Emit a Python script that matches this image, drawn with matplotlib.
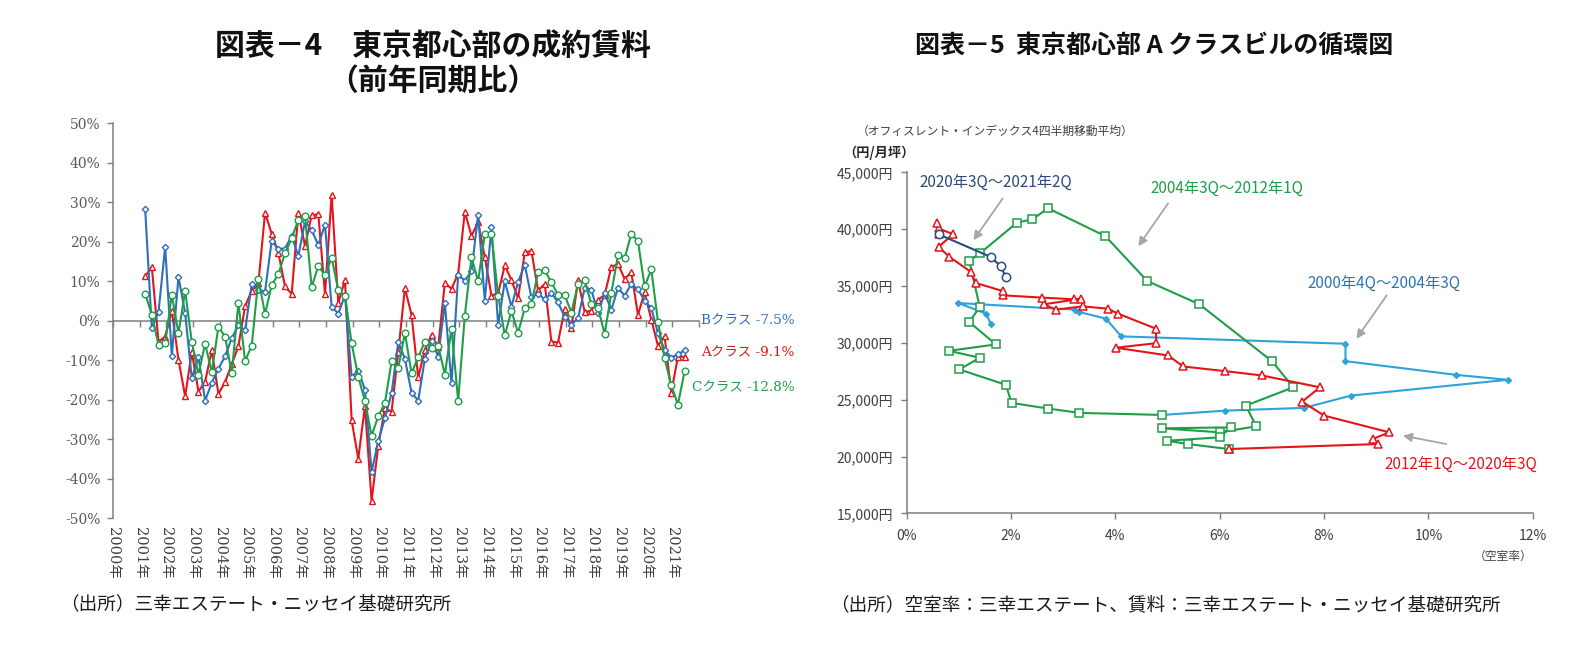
"""
Two panels: YoY change of contract rents by building class (fig.4) and the
rent / vacancy cycle of A-class buildings in central Tokyo (fig.5).
"""

import matplotlib

matplotlib.use("Agg")
import matplotlib.pyplot as plt
import matplotlib.transforms as mtransforms
from matplotlib.ticker import FuncFormatter

plt.rcParams["font.family"] = ["Noto Sans CJK JP", "DejaVu Sans"]

W, H = 1585, 652

# --- fig.4: YoY change of contract rents (%), quarterly 2001Q1 .. 2021Q2
START_YEAR = 2001
A_CLASS = [11.3, 13.6, -5.3, -4.0, 2.5, -9.9, -19.1, -7.9, -17.9, -15.4,
           -7.5, -18.5, -15.5, -11.0, -6.4, 3.7, 7.6, 9.5, 27.4, 22.0,
           17.2, 8.7, 6.8, 27.4, 18.9, 26.7, 27.0, 6.8, 31.9, 4.5,
           10.4, -25.2, -34.9, -21.6, -45.6, -31.6, -22.2, -23.0, -8.0, 8.3,
           1.5, -14.3, -7.4, -3.5, -6.7, 9.6, 8.1, 11.9, 27.6, 21.5,
           25.0, 16.1, 6.4, 7.0, 14.0, 10.3, 5.7, 17.3, 17.7, 7.7,
           9.3, -5.3, -5.5, 3.1, -1.9, 10.3, 2.2, 2.6, 5.3, 6.6,
           13.6, 14.4, 10.6, 12.3, 1.5, 7.2, 0.3, -6.3, -3.9, -18.2,
           -9.1, -9.1]
B_CLASS = [28.2, -1.9, 2.2, 18.7, -8.8, 11.1, 2.0, -14.6, -9.2, -20.2,
           -15.7, -12.1, -9.0, -4.4, -1.1, -2.4, 9.3, 7.8, 7.4, 20.3,
           18.2, 18.3, 21.5, 16.4, 25.2, 22.9, 19.2, 24.3, 3.6, 1.8,
           6.5, -14.2, -12.6, -17.4, -38.3, -30.4, -24.7, -18.4, -5.4, -9.6,
           -18.2, -20.2, -9.6, -5.0, -9.1, 4.5, -15.8, 11.6, 10.2, 12.5,
           26.9, 5.1, 23.7, -1.0, 10.0, 3.6, 9.8, 14.2, 5.9, 6.9,
           5.4, 7.0, 4.7, 0.9, -1.0, 0.6, 8.3, 7.9, 1.9, 7.0,
           2.8, 8.3, 6.4, 9.3, 8.0, 5.1, 3.2, -3.1, -7.4, -9.3,
           -8.5, -7.5]
C_CLASS = [6.9, 1.5, -6.1, -5.7, 6.6, -3.2, 7.6, -5.4, -13.6, -5.8,
           -13.0, -1.5, -4.0, -13.3, 4.6, -10.2, -6.3, 10.7, 1.7, 9.1,
           11.8, 17.1, 20.9, 25.6, 26.5, 8.5, 13.9, 11.5, 16.0, 7.7,
           6.4, -5.7, -14.2, -20.3, -29.1, -24.2, -20.8, -10.3, -12.0, -3.1,
           -13.3, -9.2, -5.3, -6.8, -6.3, -13.6, -2.0, -20.3, 1.3, 16.1,
           10.0, 22.0, 22.0, 6.4, -3.7, 2.5, -3.0, 3.2, 4.2, 12.3,
           12.8, 9.7, 6.6, 6.5, 2.1, 9.3, 10.3, 4.2, 3.2, -3.3,
           7.0, 16.6, 15.9, 22.0, 20.2, 8.7, 13.0, -0.2, -9.5, -16.3,
           -21.2, -12.8]
YEAR_LABELS = [f"{y}年" for y in range(2000, 2022)]
END_LABELS = {"B": "Bクラス -7.5%", "A": "Aクラス -9.1%", "C": "Cクラス -12.8%"}

# --- fig.5: vacancy rate (%) vs. rent (yen / tsubo / month), 4Q moving avg
VAC_0004 = [1.61, 1.52, 0.99, 3.22, 3.31, 3.82, 4.11, 8.41, 8.41, 10.52,
            11.52, 8.51, 7.62, 6.11, 4.90]
RENT_0004 = [31690, 32570, 33500, 32920, 32710, 32130, 30570, 29920, 28390,
             27190, 26750, 25360, 24280, 24040, 23660]
VAC_0412 = [4.90, 3.31, 2.71, 2.01, 1.90, 1.01, 1.40, 0.81, 1.71, 1.20,
            1.40, 1.20, 1.40, 2.11, 2.41, 2.71, 3.81, 4.61, 5.61, 7.00,
            7.41, 6.50, 6.70, 6.00, 4.90, 6.21, 6.00, 4.99, 5.39, 6.17]
RENT_0412 = [23660, 23840, 24220, 24720, 26310, 27660, 28690, 29300, 29860,
             31830, 33150, 37210, 37860, 40560, 40880, 41830, 39380, 35440,
             33390, 28390, 26090, 24480, 22660, 22130, 22480, 22570, 21690,
             21390, 21100, 20660]
VAC_1220 = [6.17, 9.03, 8.93, 9.25, 8.00, 7.58, 7.92, 6.81, 6.11, 5.30,
            5.01, 4.01, 4.78, 4.78, 4.05, 3.85, 3.37, 2.86, 2.63, 3.35,
            3.21, 2.59, 1.84, 1.84, 1.32, 1.23, 0.82, 0.61, 0.89, 0.61,
            0.59, 0.62]
RENT_1220 = [20660, 21100, 21540, 22130, 23600, 24830, 26090, 27130, 27510,
             27920, 28890, 29570, 29970, 31240, 32570, 33010, 33210, 32920,
             33390, 33890, 33830, 33980, 34180, 34560, 35270, 36240, 37560,
             38440, 39560, 40060, 40500, 39530]
VAC_2021 = [0.62, 1.61, 1.80, 1.90]
RENT_2021 = [39530, 37560, 36740, 35790]
PERIOD_LABELS = ["2000年4Q～2004年3Q", "2004年3Q～2012年1Q",
                 "2012年1Q～2020年3Q", "2020年3Q～2021年2Q"]

RED, BLUE, GREEN = "#e3151b", "#2f6fba", "#1f9e48"
LIGHT_BLUE, NAVY = "#2ea3da", "#2c4a7e"
AXIS_GRAY = "#7f7f7f"
SERIF = ["DejaVu Serif", "Noto Sans CJK JP"]


def px_box(x0, y0, x1, y1):
    """Pixel box (top-left origin) -> figure fraction rect."""
    return [x0 / W, 1 - y1 / H, (x1 - x0) / W, (y1 - y0) / H]


def quarter_x(n):
    # quarterly points sit at the quarter's last month on a date axis
    return [START_YEAR + i // 4 + (3 * (i % 4) + 2.5) / 12 for i in range(n)]


def draw_rent_growth(fig):
    ax = fig.add_axes(px_box(113, 123.3, 699, 518.3))
    x = quarter_x(len(B_CLASS))
    style = dict(lw=1.5, mfc="white", mew=1.0, zorder=3)
    ax.plot(x, A_CLASS, color=RED, marker="^", ms=4.5, **style)
    ax.plot(x, B_CLASS, color=BLUE, marker="D", ms=3.2, **style)
    ax.plot(x, C_CLASS, color=GREEN, marker="o", ms=4.8, **style)

    ax.set_xlim(2000, 2022)
    ax.set_ylim(-50, 50)
    for s in ("top", "right"):
        ax.spines[s].set_visible(False)
    ax.spines["bottom"].set_position(("data", 0))
    for s in ("left", "bottom"):
        ax.spines[s].set_color(AXIS_GRAY)
        ax.spines[s].set_linewidth(1.1)

    ax.set_yticks(range(-50, 51, 10))
    ax.yaxis.set_major_formatter(FuncFormatter(lambda v, _: f"{v:.0f}%"))
    ax.tick_params(axis="y", direction="out", length=4, width=1,
                   color=AXIS_GRAY, labelcolor="#595959", labelsize=10, pad=5)
    for lab in ax.get_yticklabels():
        lab.set_family(SERIF)
    ax.set_xticks(range(2000, 2023))
    ax.tick_params(axis="x", direction="out", length=4, width=1,
                   color=AXIS_GRAY, labelbottom=False)

    trans = mtransforms.blended_transform_factory(ax.transData, ax.transAxes)
    for i, lab in enumerate(YEAR_LABELS):
        ax.text(2000 + i, -0.022, lab, transform=trans, rotation=-90,
                ha="center", va="top", fontsize=10.5, color="#404040",
                family=SERIF)

    for key, y, col in (("B", 0.3, BLUE), ("A", -7.8, RED), ("C", -16.7, GREEN)):
        ax.text(2025.6, y, END_LABELS[key], ha="right", va="center",
                fontsize=9.7, color=col, family=SERIF, clip_on=False)


def draw_cycle(fig):
    ax = fig.add_axes(px_box(906.7, 172.3, 1532.8, 513.4))
    ax.plot(VAC_0004, RENT_0004, color=LIGHT_BLUE, lw=1.5, marker="D",
            ms=3.0, mfc=LIGHT_BLUE, mec=LIGHT_BLUE, zorder=2)
    ax.plot(VAC_0412, RENT_0412, color=GREEN, lw=1.5, marker="s", ms=6,
            mfc="white", mew=1.1, zorder=3)
    ax.plot(VAC_1220, RENT_1220, color=RED, lw=1.5, marker="^", ms=6,
            mfc="white", mew=1.1, zorder=4)
    ax.plot(VAC_2021, RENT_2021, color=NAVY, lw=1.5, marker="o", ms=6,
            mfc="white", mew=1.1, zorder=5)

    ax.set_xlim(0, 12)
    ax.set_ylim(15000, 45000)
    for s in ("top", "right"):
        ax.spines[s].set_visible(False)
    for s in ("left", "bottom"):
        ax.spines[s].set_color(AXIS_GRAY)
        ax.spines[s].set_linewidth(1.1)
    ax.set_xticks(range(0, 13, 2))
    ax.set_yticks(range(15000, 45001, 5000))
    ax.xaxis.set_major_formatter(FuncFormatter(lambda v, _: f"{v:.0f}%"))
    ax.yaxis.set_major_formatter(FuncFormatter(lambda v, _: f"{v:,.0f}円"))
    ax.tick_params(direction="out", length=4, width=1, color=AXIS_GRAY,
                   labelcolor="#404040", labelsize=10)
    ax.tick_params(axis="y", pad=6)
    ax.tick_params(axis="x", pad=7)

    arrow = dict(arrowstyle="-|>", color="#a6a6a6", lw=1.3,
                 mutation_scale=13, shrinkA=0, shrinkB=0)
    notes = [
        (PERIOD_LABELS[3], NAVY, (0.25, 44060), (1.84, 42700), (1.28, 39030)),
        (PERIOD_LABELS[1], GREEN, (4.68, 43530), (5.01, 42270), (4.44, 38500)),
        (PERIOD_LABELS[0], "#2e75b6", (7.69, 35150), (9.20, 34180), (8.62, 30360)),
        (PERIOD_LABELS[2], RED, (9.16, 19190), (10.34, 21100), (9.51, 21840)),
    ]
    for text, col, pos, tail, tip in notes:
        ax.text(*pos, text, color=col, fontsize=11, ha="left", va="center")
        ax.annotate("", xy=tip, xytext=tail, arrowprops=arrow)


def main():
    fig = plt.figure(figsize=(W / 100, H / 100), dpi=100)
    fig.patch.set_facecolor("white")

    title = dict(ha="center", va="center", fontweight="bold", color="#111111")
    fig.text(433 / W, 1 - 46 / H, "図表－4　東京都心部の成約賃料",
             fontsize=21.5, **title)
    fig.text(433 / W, 1 - 81 / H, "（前年同期比）", fontsize=21.5, **title)
    fig.text(1154 / W, 1 - 46 / H, "図表－5  東京都心部 A クラスビルの循環図",
             fontsize=18, **title)

    draw_rent_growth(fig)
    draw_cycle(fig)

    fig.text(857 / W, 1 - 131 / H, "（オフィスレント・インデックス4四半期移動平均）",
             fontsize=8.5, color="#404040", va="center")
    fig.text(843 / W, 1 - 153 / H, "（円/月坪）", fontsize=9.5,
             color="#262626", va="center", fontweight="bold")
    fig.text(1503 / W, 1 - 556 / H, "（空室率）", fontsize=8.5,
             color="#404040", ha="center", va="center")

    src = dict(fontsize=13.4, color="#1a1a1a", va="center")
    fig.text(60 / W, 1 - 605 / H, "（出所）三幸エステート・ニッセイ基礎研究所", **src)
    fig.text(830 / W, 1 - 605 / H,
             "（出所）空室率：三幸エステート、賃料：三幸エステート・ニッセイ基礎研究所",
             **src)

    fig.savefig("out.png", dpi=100)
    plt.close(fig)


if __name__ == "__main__":
    main()
